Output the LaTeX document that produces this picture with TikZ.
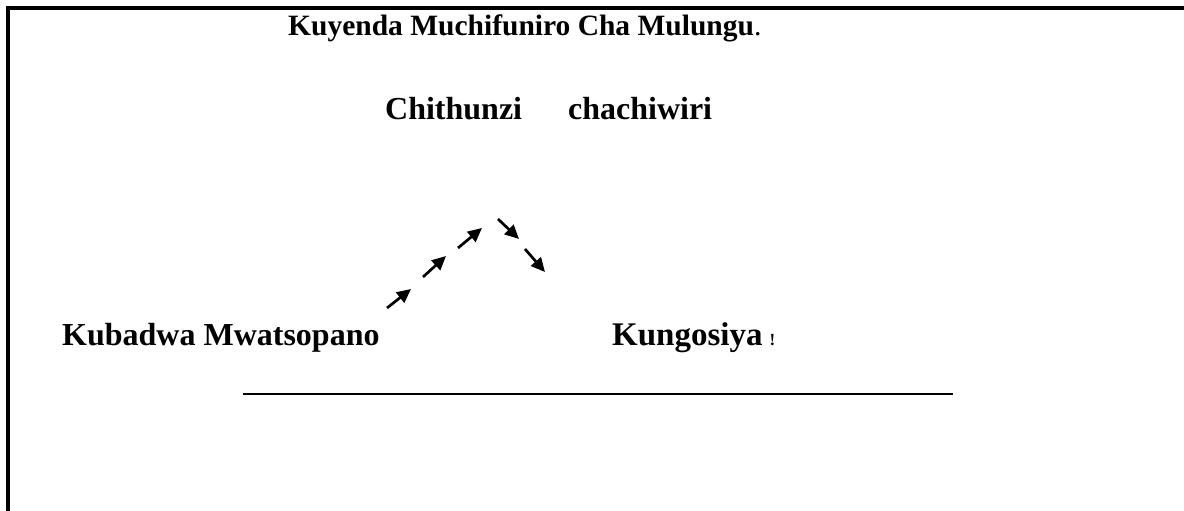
\documentclass[tikz,border=0pt]{standalone}
\usepackage{fontspec}
\setmainfont{Liberation Serif}
\usetikzlibrary{arrows.meta}
\tikzset{
  frameline/.style={line width=3.2pt, line cap=rect},
  rule/.style={line width=2.8pt},
  lbl/.style={anchor=base west, inner sep=0pt, font=\fontsize{32}{36}\selectfont\bfseries},
  hop/.style={line width=2.7pt, -{Triangle[length=14pt,width=13pt]}}
}
\begin{document}
\begin{tikzpicture}[x=1pt,y=-1pt]
\useasboundingbox (0,0) rectangle (1184,511);
% frame (top and left sides)
\coordinate (fbl) at (8,511);
\coordinate (ftl) at (8,8);
\coordinate (ftr) at (1184,8);
\draw[frameline] (fbl) -- (ftl) -- (ftr);
% texts
\node[lbl, font=\fontsize{29.5}{33}\selectfont\bfseries] (title) at (288,36) {Kuyenda Muchifuniro Cha Mulungu\textmd{.}};
\node[lbl] (sub) at (385,120) {Chithunzi\hspace{46pt}chachiwiri};
\node[lbl] (left) at (62,345) {Kubadwa Mwatsopano};
\node[lbl, font=\fontsize{33}{36}\selectfont\bfseries] (right) at (612,345) {Kungosiya\hspace{7pt}{\fontsize{17}{18}\selectfont !}};
% underline
\coordinate (ua) at (243,394);
\coordinate (ub) at (953,394);
\draw[rule] (ua) -- (ub);
% arrows
\coordinate (a1s) at (387,308); \coordinate (a1e) at (411,289);
\coordinate (a2s) at (423,277); \coordinate (a2e) at (446,256);
\coordinate (a3s) at (458,248); \coordinate (a3e) at (482,228);
\coordinate (a4s) at (498,219); \coordinate (a4e) at (519,239);
\coordinate (a5s) at (525,249); \coordinate (a5e) at (545,272);
\draw[hop] (a1s) -- (a1e);
\draw[hop] (a2s) -- (a2e);
\draw[hop] (a3s) -- (a3e);
\draw[hop] (a4s) -- (a4e);
\draw[hop] (a5s) -- (a5e);
\end{tikzpicture}
\end{document}
